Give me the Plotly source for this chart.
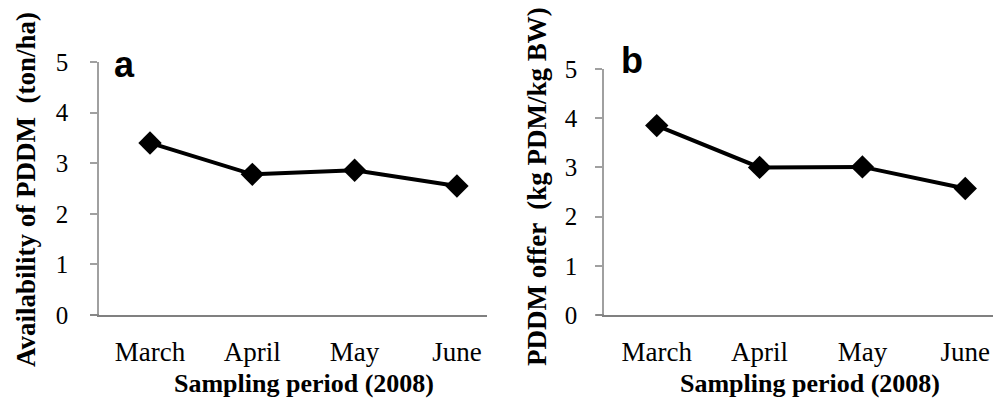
import plotly.graph_objects as go

months = ["March", "April", "May", "June"]
availability = [3.40, 2.78, 2.86, 2.55]
offer = [3.85, 3.00, 3.01, 2.57]
y_ticks = [0, 1, 2, 3, 4, 5]

W, H = 1003, 400
SERIF = "Liberation Serif, Times New Roman, serif"
SANS = "Liberation Sans, Arial, sans-serif"

xpos = list(range(len(months)))

fig = go.Figure()
line_style = dict(color="black", width=4)
marker_style = dict(symbol="diamond", size=18, color="black")

fig.add_trace(go.Scatter(x=xpos, y=availability, mode="lines+markers",
                         line=line_style, marker=marker_style,
                         xaxis="x", yaxis="y", showlegend=False, cliponaxis=False))
fig.add_trace(go.Scatter(x=xpos, y=offer, mode="lines+markers",
                         line=line_style, marker=marker_style,
                         xaxis="x2", yaxis="y2", showlegend=False, cliponaxis=False))

def px_x(p):
    return p / W

def px_y(p):
    return 1 - p / H

xcommon = dict(tickmode="array", tickvals=xpos, ticktext=months,
               showline=True, linecolor="#808080", linewidth=1.5,
               ticks="", showgrid=False, zeroline=False, automargin=False,
               tickfont=dict(family=SERIF, size=27, color="black"),
               ticklabelstandoff=12, ticklabeloverflow="allow")
ycommon = dict(range=[0, 5], tickvals=y_ticks, showline=True, linecolor="#a0a0a0",
               linewidth=1.5, ticks="outside", ticklen=7, tickcolor="#a0a0a0",
               tickwidth=1.5, showgrid=False, zeroline=False, automargin=False,
               tickfont=dict(family=SERIF, size=25, color="black"),
               ticklabelposition="outside", ticklabeloverflow="allow")

fig.update_layout(
    width=W, height=H,
    margin=dict(l=0, r=0, t=0, b=0, autoexpand=False),
    paper_bgcolor="white", plot_bgcolor="white",
    xaxis=dict(domain=[px_x(99), px_x(487)], range=[-0.4985, 3.294], anchor="y", **xcommon),
    yaxis=dict(domain=[px_y(315), px_y(62)], anchor="x", ticklabelstandoff=17, **ycommon),
    xaxis2=dict(domain=[px_x(604), px_x(993)], range=[-0.513, 3.27], anchor="y2", **xcommon),
    yaxis2=dict(domain=[px_y(315), px_y(69)], anchor="x2", ticklabelstandoff=13, **ycommon),
)

annotations = [
    dict(text="<b>a</b>", x=px_x(124), y=px_y(64), font=dict(family=SANS, size=36, color="black")),
    dict(text="<b>b</b>", x=px_x(632), y=px_y(60), font=dict(family=SANS, size=36, color="black")),
    dict(text="<b>Sampling period (2008)</b>", x=px_x(304), y=px_y(383),
         font=dict(family=SERIF, size=26, color="black")),
    dict(text="<b>Sampling period (2008)</b>", x=px_x(810), y=px_y(383),
         font=dict(family=SERIF, size=26, color="black")),
    dict(text="<b>Availability of PDDM  (ton/ha)</b>", x=px_x(26), y=px_y(190), textangle=-90,
         font=dict(family=SERIF, size=27, color="black")),
    dict(text="<b>PDDM offer  (kg PDM/kg BW)</b>", x=px_x(537), y=px_y(187), textangle=-90,
         font=dict(family=SERIF, size=27, color="black")),
]
for a in annotations:
    a.update(xref="paper", yref="paper", showarrow=False, xanchor="center", yanchor="middle")
fig.update_layout(annotations=annotations)

fig.update_layout(shapes=[
    dict(type="line", xref="paper", yref="paper", x0=px_x(90), x1=px_x(99),
         y0=px_y(315), y1=px_y(315), line=dict(color="#808080", width=1.5)),
    dict(type="line", xref="paper", yref="paper", x0=px_x(596), x1=px_x(604),
         y0=px_y(315), y1=px_y(315), line=dict(color="#808080", width=1.5)),
])

fig.write_html("out.html", config={"displayModeBar": False},
               post_script="document.body.style.margin='0';")
